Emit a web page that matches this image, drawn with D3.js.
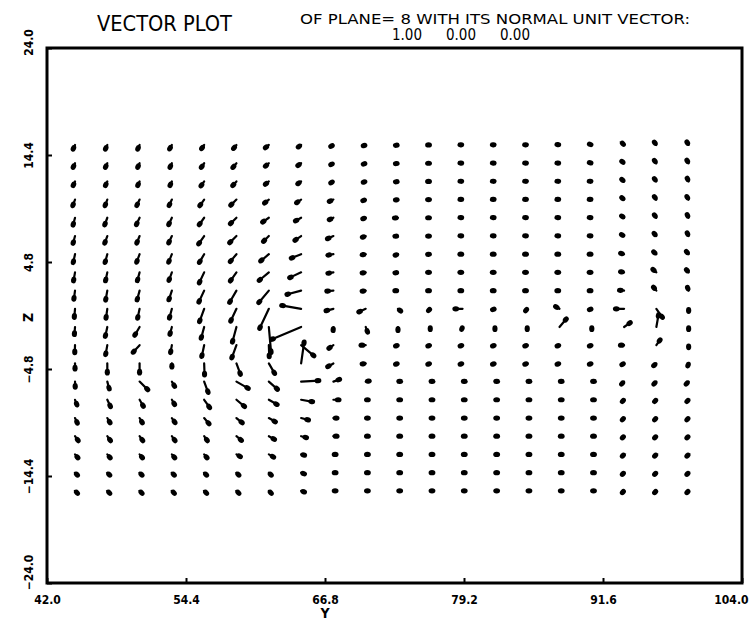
<!DOCTYPE html>
<html>
<head>
<meta charset="utf-8">
<script src="https://cdn.jsdelivr.net/npm/d3@7/dist/d3.min.js"></script>
<style>
  body { margin: 0; background: #fff; }
  text { fill: #000; }
</style>
</head>
<body>
<svg id="chart" width="749" height="621"></svg>
<script>
// Grid stations along the horizontal (Y) and vertical (Z) directions
const gridY = [44.50, 47.38, 50.26, 53.14, 56.02, 58.90, 61.79, 64.67, 67.55, 70.43,
               73.31, 76.19, 79.07, 81.96, 84.84, 87.72, 90.60, 93.48, 96.36, 99.24];
const gridZ = [15.30, 13.66, 12.03, 10.40, 8.77, 7.13, 5.50, 3.87, 2.23, 0.60,
               -1.03, -2.66, -4.30, -5.93, -7.56, -9.20, -10.83, -12.46, -14.10, -15.73];

// In-plane velocity magnitude at each station (row = Z station, column = Y station)
const speed = [
  [5,5,5,5,5,5,5,4,3.5,3,3,3,3,3,3,3,3,3,4,4],
  [5,5,5,5,5.5,6,5,4.5,3.5,3,3,3,3,3,3,3,3,3.5,4,4],
  [5,5,5,5,6,6,5,4.5,3.5,3,3,3,3,3,3,3,3,3.5,4,4],
  [7,7,7,7,8,8.5,6,6,5,3.5,3,3,3,3,3,3,3,3.5,4,4],
  [8,8,8,8,9,9,8,7,5,3.5,4,3,3,3,3,3,3,3.5,4,4],
  [8,8,8,8,10,10,8,8,7,4,3.5,3,3,3,3,3,3,3.5,4,4],
  [9,9,9,9,10,10,11,11,6,4,3.5,3,3,3,3,3,3,4,4,4],
  [9,9,9,9,12,11,13,13,6,4,3.5,3,3,3,3,3,3,4,5,4],
  [9,10,10,10,13,14,16,15,7,4,3.5,3,3,3,3,3,3,5,5,4],
  [9,10,10,10,14,14,22,20,8,8,4,3,8,3,3,5,3,9,11,3],
  [8,10,10,8,12,16,26,32,4,6,4,3,3,3,3,11,3,8,13,3],
  [8,10,10,8,12,14,12,17,6,5,3,3,3,3,3,3,3,4,7,3],
  [6,10,10,4,12,12,12,22,7,4,3,3,3,3,3,3,3,3,4,3],
  [6,8,12,6,12,14,12,18,7,4,3,3,3,3,3,3,3,4,4,4],
  [6,8,8,6,10,11,10,12,6,3,3,3,3,3,3,3,3,3,3,3],
  [6,6,6,6,8,8,8,8,4,3,3,3,3,3,3,3,3,3,3,3],
  [6,6,6,6,6,7,7,6,4,3,3,3,3,3,3,3,3,3,3,3],
  [5,5,5,5,5,5,6,4,3,3,3,3,3,3,3,3,3,3,3,3],
  [4,4,4,4,4,4,4,4,3,3,3,3,3,3,3,3,3,3,3,3],
  [4,4,4,4,4,4,4,4,3,3,3,3,3,3,3,3,3,3,3,3]
];

// Flow direction in degrees, counter-clockwise from the +Y axis
const heading = [
  [245,245,245,240,235,230,220,215,210,200,190,180,175,175,175,170,160,135,125,120],
  [245,245,245,245,235,230,220,215,210,200,190,180,175,175,175,175,165,140,125,120],
  [245,245,245,245,235,228,220,215,210,200,190,180,175,175,175,175,175,140,125,115],
  [250,250,245,245,235,225,220,215,205,200,190,180,175,175,175,175,175,140,125,120],
  [255,250,245,245,235,225,215,210,205,200,185,180,175,175,175,175,175,145,125,115],
  [255,250,248,245,235,225,225,215,205,200,185,180,175,175,175,175,175,150,130,115],
  [258,255,250,248,240,230,220,202,190,190,200,185,180,180,180,180,180,165,140,130],
  [260,258,255,250,245,235,220,205,190,190,190,180,180,180,180,180,180,170,140,130],
  [262,260,255,252,245,240,230,195,185,190,180,180,180,180,180,180,180,175,130,110],
  [265,262,258,255,250,245,245,170,195,205,320,225,180,200,230,150,200,180,305,270],
  [265,258,240,255,255,255,275,203,265,290,270,270,250,270,270,50,270,35,80,270],
  [268,260,228,260,258,250,272,320,215,180,200,200,200,200,200,200,200,180,55,270],
  [270,270,270,270,272,290,300,82,210,190,200,200,200,200,200,200,200,210,220,250],
  [272,285,315,300,290,330,318,3,20,10,5,5,5,5,5,5,5,225,225,225],
  [290,295,300,300,305,320,330,350,0,0,0,0,0,0,0,0,0,225,225,225],
  [295,300,300,305,310,320,330,345,0,0,0,0,0,0,0,0,0,225,225,225],
  [305,305,305,305,305,320,330,345,0,0,0,0,0,0,0,0,0,225,225,225],
  [310,310,310,310,310,330,330,345,0,0,0,0,0,0,0,0,0,225,225,225],
  [315,315,315,315,315,315,315,340,0,0,0,0,0,0,0,0,0,225,225,225],
  [315,315,315,315,315,315,315,340,0,0,0,0,0,0,0,0,0,225,225,225]
];

const yTicks = [42.0, 54.4, 66.8, 79.2, 91.6, 104.0];
const zTicks = [-24.0, -14.4, -4.8, 4.8, 14.4, 24.0];
const planeIndex = 8;
const normalVector = [1.00, 0.00, 0.00];

// axis units per unit of velocity
const ARROW_SCALE = 0.09;

const svg = d3.select("#chart");
const frame = { left: 47, right: 742, top: 48, bottom: 583 };

const x = d3.scaleLinear().domain([42, 104]).range([frame.left, frame.right]);
const y = d3.scaleLinear().domain([-24, 24]).range([frame.bottom, frame.top]);

const font = "'DejaVu Sans Condensed', 'DejaVu Sans', sans-serif";

// Titles
svg.append("text")
  .attr("x", 97).attr("y", 31)
  .attr("font-family", font).attr("font-size", 22)
  .attr("textLength", 135).attr("lengthAdjust", "spacingAndGlyphs")
  .text("VECTOR PLOT");

svg.append("text")
  .attr("x", 300).attr("y", 24)
  .attr("font-family", font).attr("font-size", 14.5)
  .attr("textLength", 390).attr("lengthAdjust", "spacingAndGlyphs")
  .text(`OF PLANE= ${planeIndex} WITH ITS NORMAL UNIT VECTOR:`);

svg.append("g")
  .selectAll("text")
  .data(normalVector)
  .join("text")
  .attr("x", (d, i) => 392 + i * 54)
  .attr("y", 40)
  .attr("font-family", font).attr("font-size", 15)
  .text(d => d.toFixed(2));

// Axes
const xAxis = d3.axisBottom(x).tickValues(yTicks).tickSize(-5).tickPadding(12)
  .tickFormat(d3.format(".1f"));
const gx = svg.append("g").attr("transform", `translate(0,${frame.bottom})`).call(xAxis);
gx.select(".domain").remove();
gx.selectAll(".tick line").attr("stroke", "#000").attr("stroke-width", 2);
gx.selectAll(".tick text")
  .attr("font-family", font).attr("font-size", 12).attr("font-weight", "bold")
  .attr("fill", "#000")
  .attr("text-anchor", d => d === 104 ? "end" : "middle")
  .attr("x", d => d === 104 ? 6 : 0);

// vertical tick labels; the end labels are nudged upward a little
const zLabelShift = d => d === 24 ? -6 : d === -24 ? -11 : 0;
const yAxis = d3.axisLeft(y).tickValues(zTicks).tickSize(-5).tickPadding(0)
  .tickFormat(d3.format(".1f"));
const gy = svg.append("g").attr("transform", `translate(${frame.left},0)`).call(yAxis);
gy.select(".domain").remove();
gy.selectAll(".tick line").attr("stroke", "#000").attr("stroke-width", 2);
gy.selectAll(".tick text")
  .attr("font-family", font).attr("font-size", 12).attr("font-weight", "bold")
  .attr("fill", "#000")
  .attr("x", 0).attr("y", 0).attr("dy", null)
  .attr("text-anchor", "middle")
  .attr("transform", d => `translate(-14,${zLabelShift(d)}) rotate(-90)`);

// Frame
svg.append("rect")
  .attr("x", frame.left).attr("y", frame.top)
  .attr("width", frame.right - frame.left).attr("height", frame.bottom - frame.top)
  .attr("fill", "none").attr("stroke", "#000").attr("stroke-width", 3);

// Axis titles
svg.append("text")
  .attr("x", x(66.8)).attr("y", 618)
  .attr("text-anchor", "middle")
  .attr("font-family", font).attr("font-size", 14).attr("font-weight", "bold")
  .text("Y");

svg.append("text")
  .attr("transform", `translate(33,${y(0) + 2}) rotate(-90)`)
  .attr("text-anchor", "middle")
  .attr("font-family", font).attr("font-size", 14).attr("font-weight", "bold")
  .text("Z");

// Vectors: a shaft from the station with a filled head at the tip
const vectors = [];
gridZ.forEach((z, r) => {
  gridY.forEach((yy, c) => {
    const a = heading[r][c] * Math.PI / 180;
    const L = speed[r][c] * ARROW_SCALE;
    vectors.push({
      y0: yy, z0: z,
      y1: yy + L * Math.cos(a),
      z1: z + L * Math.sin(a)
    });
  });
});

const vg = svg.append("g");
vectors.forEach(v => {
  const px0 = x(v.y0), py0 = y(v.z0);
  const px1 = x(v.y1), py1 = y(v.z1);
  const ang = Math.atan2(py1 - py0, px1 - px0);
  const deg = ang * 180 / Math.PI;
  vg.append("line")
    .attr("x1", px0).attr("y1", py0)
    .attr("x2", px1).attr("y2", py1)
    .attr("stroke", "#000").attr("stroke-width", 2.2)
    .attr("stroke-linecap", "round");
  const cx = px1 - 1.3 * Math.cos(ang), cy = py1 - 1.3 * Math.sin(ang);
  vg.append("ellipse")
    .attr("cx", 0).attr("cy", 0)
    .attr("rx", 3.4).attr("ry", 2.6)
    .attr("transform", `translate(${cx},${cy}) rotate(${deg})`)
    .attr("fill", "#000");
});
</script>
</body>
</html>
